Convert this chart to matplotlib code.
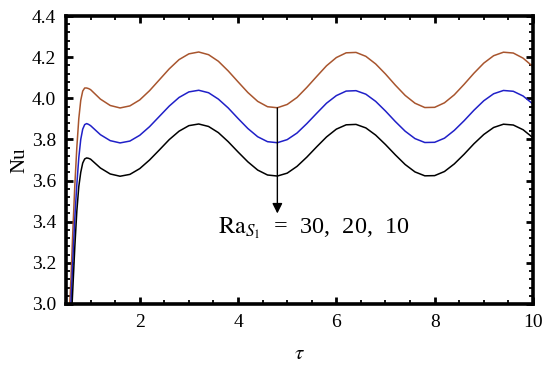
import matplotlib
matplotlib.use("Agg")
import matplotlib.pyplot as plt
from matplotlib.ticker import MultipleLocator

plt.rcParams['font.family'] = ['Liberation Serif', 'DejaVu Serif']
plt.rcParams['mathtext.fontset'] = 'stix'

tau = [0.56, 0.60, 0.64, 0.68, 0.72, 0.76, 0.80, 0.84, 0.88, 0.92, 0.96,
       1.0, 1.2, 1.4, 1.6, 1.8, 2.0, 2.2, 2.4, 2.6, 2.8, 3.0, 3.2, 3.4, 3.6, 3.8,
       4.0, 4.2, 4.4, 4.6, 4.8, 5.0, 5.2, 5.4, 5.6, 5.8, 6.0, 6.2, 6.4, 6.6, 6.8,
       7.0, 7.2, 7.4, 7.6, 7.8, 8.0, 8.2, 8.4, 8.6, 8.8, 9.0, 9.2, 9.4, 9.6, 9.8, 10.0]

nu_ra30 = [2.92, 3.12, 3.36, 3.58, 3.76, 3.90, 3.99, 4.035, 4.05, 4.05, 4.047,
           4.042, 3.996, 3.965, 3.953, 3.963, 3.992, 4.037, 4.090, 4.143, 4.188, 4.216, 4.225, 4.212, 4.180, 4.133,
           4.080, 4.028, 3.985, 3.959, 3.954, 3.970, 4.004, 4.053, 4.106, 4.158, 4.198, 4.221, 4.223, 4.204, 4.167,
           4.118, 4.064, 4.014, 3.976, 3.955, 3.956, 3.978, 4.017, 4.068, 4.122, 4.171, 4.207, 4.224, 4.220, 4.195, 4.154]

nu_ra20 = [2.80, 3.00, 3.22, 3.42, 3.58, 3.71, 3.80, 3.85, 3.872, 3.877, 3.873,
           3.867, 3.823, 3.794, 3.783, 3.792, 3.820, 3.862, 3.912, 3.962, 4.004, 4.031, 4.039, 4.027, 3.996, 3.953,
           3.902, 3.853, 3.813, 3.789, 3.784, 3.799, 3.831, 3.877, 3.927, 3.976, 4.013, 4.035, 4.037, 4.020, 3.985,
           3.938, 3.887, 3.840, 3.804, 3.785, 3.786, 3.806, 3.844, 3.891, 3.942, 3.988, 4.022, 4.038, 4.034, 4.011, 3.972]

nu_ra10 = [2.70, 2.88, 3.08, 3.28, 3.45, 3.57, 3.64, 3.685, 3.705, 3.71, 3.708,
           3.704, 3.661, 3.632, 3.621, 3.630, 3.658, 3.700, 3.749, 3.799, 3.840, 3.867, 3.875, 3.863, 3.833, 3.789,
           3.739, 3.691, 3.651, 3.627, 3.622, 3.636, 3.669, 3.714, 3.764, 3.812, 3.850, 3.871, 3.873, 3.856, 3.821,
           3.775, 3.725, 3.678, 3.642, 3.623, 3.624, 3.644, 3.681, 3.728, 3.779, 3.824, 3.858, 3.874, 3.870, 3.847, 3.808]

x_ticks = [2, 4, 6, 8, 10]
y_ticks = [3.0, 3.2, 3.4, 3.6, 3.8, 4.0, 4.2, 4.4]
arrow_tau = 4.8
arrow_from = 3.953
arrow_to = 3.44
label_text = r'$\mathrm{Ra}_{S_1}$  =  30,  20,  10'

fig = plt.figure(figsize=(5.5, 3.68), dpi=100)
ax = fig.add_axes([0.12, 0.174, 0.849, 0.7825])

ax.plot(tau, nu_ra30, color='#a8552e', lw=1.1)
ax.plot(tau, nu_ra20, color='#2020c8', lw=1.1)
ax.plot(tau, nu_ra10, color='black', lw=1.1)

ax.annotate('', xy=(arrow_tau, arrow_to), xytext=(arrow_tau, arrow_from),
            arrowprops=dict(arrowstyle='-|>', color='black', lw=1.0,
                            mutation_scale=15, shrinkA=0, shrinkB=0))
ax.text(3.6, 3.37, label_text, fontsize=17.5, va='center', ha='left')

ax.set_xlim(0.5, 10)
ax.set_ylim(3.0, 4.4)
ax.set_xticks(x_ticks)
ax.set_yticks(y_ticks)
ax.set_yticklabels([f'{v:.1f}' for v in y_ticks])
ax.xaxis.set_minor_locator(MultipleLocator(0.5))
ax.yaxis.set_minor_locator(MultipleLocator(0.04))
ax.tick_params(which='both', direction='in', top=True, right=True, labelsize=14, pad=7)
ax.tick_params(which='major', length=5, width=2.0)
ax.tick_params(which='minor', length=3, width=1.3)
for s in ax.spines.values():
    s.set_linewidth(2.6)

ax.set_xlabel(r'$\tau$', fontsize=15, labelpad=10)
ax.set_ylabel('Nu', fontsize=15, labelpad=2)

fig.savefig('out.png', dpi=100)
